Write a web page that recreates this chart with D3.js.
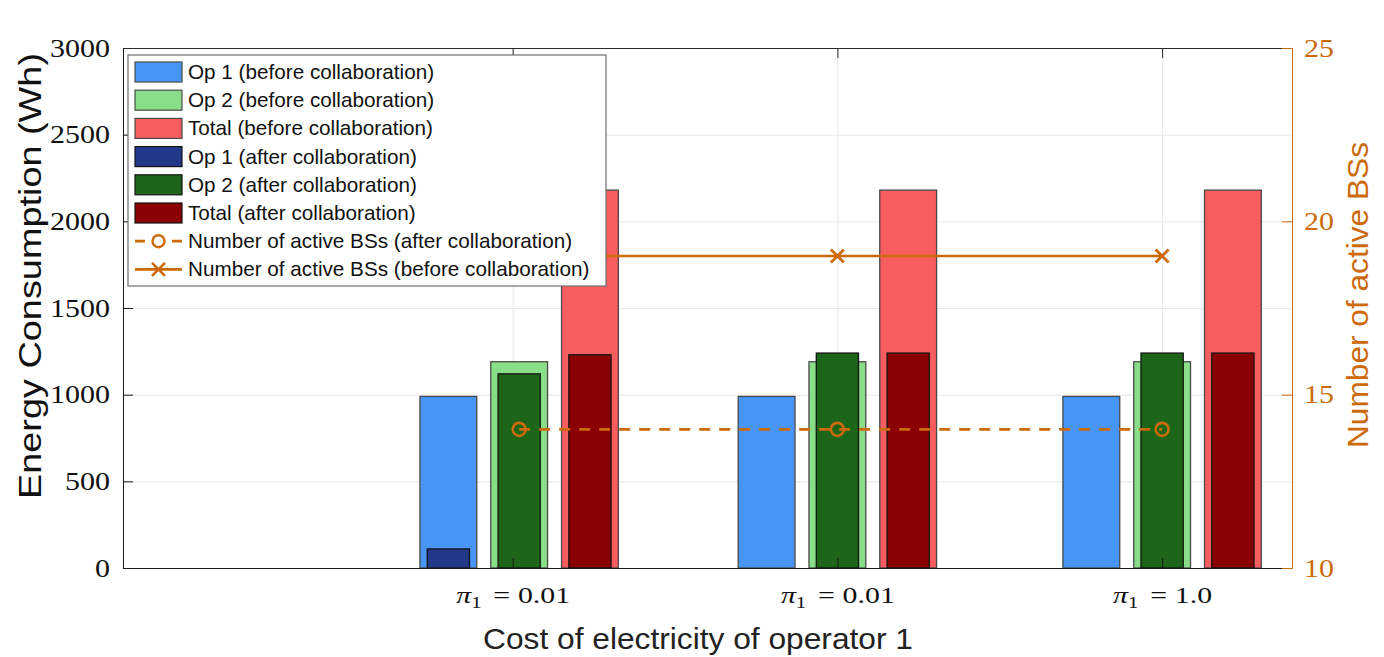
<!DOCTYPE html>
<html>
<head>
<meta charset="utf-8">
<script src="https://cdn.jsdelivr.net/npm/d3@7"></script>
<style>
  body { margin: 0; background: #fff; }
  svg text { font-family: "Liberation Sans", Arial, sans-serif; }
  .tick-num { font-family: "Liberation Serif", "Times New Roman", serif; }
</style>
</head>
<body>
<div id="chart"></div>
<script>
// group positions (x units) and tick labels
const groupX = [1.02, 2, 3];
const tickX = [1, 2, 3];
const tickLabels = ["0.01", "0.01", "1.0"];

// energy consumption (Wh)
const op1Before = [990, 990, 990];
const op2Before = [1190, 1190, 1190];
const totalBefore = [2180, 2180, 2180];
const op1After = [110, 0, 0];
const op2After = [1120, 1240, 1240];
const totalAfter = [1230, 1240, 1240];

// number of active base stations
const bsAfter = [14, 14, 14];
const bsBefore = [19, 19, 19];

const energyTicks = [0, 500, 1000, 1500, 2000, 2500, 3000];
const bsTicks = [10, 15, 20, 25];

const width = 1384, height = 657;
const pl = 123, pr = 1292, pt = 48, pb = 568;
const orange = "#cc6a0c";
const sx = 1.2; // latex-ish numbers are wide

const svg = d3.select("#chart").append("svg")
    .attr("width", width)
    .attr("height", height);

const x = d3.scaleLinear().domain([-0.2, 3.4]).range([pl, pr]);
const y = d3.scaleLinear().domain([0, 3000]).range([pb, pt]);
const y2 = d3.scaleLinear().domain([10, 25]).range([pb, pt]);

// grid
svg.append("g")
    .attr("transform", `translate(${pl},0)`)
    .call(d3.axisLeft(y).tickValues(energyTicks.slice(1, -1)).tickSize(-(pr - pl)).tickFormat(""))
    .call(g => g.select(".domain").remove())
    .call(g => g.selectAll("line").attr("stroke", "#e6e6e6"));
svg.append("g")
    .attr("transform", `translate(0,${pb})`)
    .call(d3.axisBottom(x).tickValues(tickX).tickSize(-(pb - pt)).tickFormat(""))
    .call(g => g.select(".domain").remove())
    .call(g => g.selectAll("line").attr("stroke", "#e6e6e6"));

const step = 0.218, wideW = 0.175, narrowW = 0.13;
const wideSeries = [
  { vals: op1Before, off: -1, fill: "#4795f7", label: "Op 1 (before collaboration)" },
  { vals: op2Before, off: 0, fill: "#88df88", label: "Op 2 (before collaboration)" },
  { vals: totalBefore, off: 1, fill: "#f75d5f", label: "Total (before collaboration)" }
];
const narrowSeries = [
  { vals: op1After, off: -1, fill: "#22398a", label: "Op 1 (after collaboration)" },
  { vals: op2After, off: 0, fill: "#1d6619", label: "Op 2 (after collaboration)" },
  { vals: totalAfter, off: 1, fill: "#8b0000", label: "Total (after collaboration)" }
];

function drawBars(series, w, edge) {
  series.forEach(s => {
    svg.append("g").selectAll("rect")
      .data(s.vals.map((v, i) => ({ v, gx: groupX[i] })).filter(d => d.v > 0))
      .enter().append("rect")
      .attr("x", d => x(d.gx + s.off * step - w / 2))
      .attr("width", d => x(w) - x(0))
      .attr("y", d => y(d.v))
      .attr("height", d => y(0) - y(d.v))
      .attr("fill", s.fill)
      .attr("stroke", edge)
      .attr("stroke-width", 1.3);
  });
}
drawBars(wideSeries, wideW, "#4a4a4a");
drawBars(narrowSeries, narrowW, "#141414");

// active BS lines
const line = d3.line().x((d, i) => x(groupX[i])).y(d => y2(d));
svg.append("path").datum(bsBefore)
    .attr("d", line).attr("fill", "none")
    .attr("stroke", orange).attr("stroke-width", 2.7);
svg.append("path").datum(bsAfter)
    .attr("d", line).attr("fill", "none")
    .attr("stroke", orange).attr("stroke-width", 2.7)
    .attr("stroke-dasharray", "11,9");
svg.append("g").selectAll("circle")
    .data(bsAfter).enter().append("circle")
    .attr("cx", (d, i) => x(groupX[i])).attr("cy", d => y2(d))
    .attr("r", 6.5).attr("fill", "none")
    .attr("stroke", orange).attr("stroke-width", 2.6);
const xMark = "M-6.5,-6.5L6.5,6.5M-6.5,6.5L6.5,-6.5";
svg.append("g").selectAll("path")
    .data(bsBefore).enter().append("path")
    .attr("transform", (d, i) => `translate(${x(groupX[i])},${y2(d)})`)
    .attr("d", xMark).attr("stroke", orange).attr("stroke-width", 2.8);

// axes
svg.append("g")
    .attr("transform", `translate(${pl},0)`)
    .call(d3.axisLeft(y).tickValues(energyTicks).tickFormat(d3.format("d"))
        .tickSize(-10).tickSizeOuter(0).tickPadding(13))
    .call(g => g.select(".domain").attr("stroke", "#1a1a1a"))
    .call(g => g.selectAll("line").attr("stroke", "#1a1a1a"))
    .call(g => g.selectAll("text").attr("class", "tick-num")
        .attr("font-size", 25).attr("fill", "#111")
        .attr("x", -13 / sx).attr("transform", `scale(${sx},1)`));

svg.append("g")
    .attr("transform", `translate(0,${pt})`)
    .call(d3.axisTop(x).tickValues(tickX).tickSize(-10).tickSizeOuter(0).tickFormat(""))
    .call(g => g.selectAll("path,line").attr("stroke", "#2a2a2a"));

const xAxis = svg.append("g")
    .attr("transform", `translate(0,${pb})`)
    .call(d3.axisBottom(x).tickValues(tickX).tickSize(-10).tickSizeOuter(0).tickFormat(""))
    .call(g => g.selectAll("path,line").attr("stroke", "#1a1a1a"));
xAxis.selectAll(".tick").each(function (d, i) {
  const t = d3.select(this).append("text")
      .attr("class", "tick-num")
      .attr("y", 35).attr("text-anchor", "middle")
      .attr("transform", "scale(1.3,1)")
      .attr("fill", "#111").attr("font-size", 23);
  t.append("tspan").attr("font-style", "italic").text("π");
  t.append("tspan").attr("font-size", 16).attr("dy", 5).text("1");
  t.append("tspan").attr("dy", -5).attr("dx", 9).text("=");
  t.append("tspan").attr("dx", 6).text(tickLabels[i]);
});

svg.append("g")
    .attr("transform", `translate(${pr},0)`)
    .call(d3.axisRight(y2).tickValues(bsTicks).tickSize(-10).tickSizeOuter(0).tickPadding(12))
    .call(g => g.selectAll("path,line").attr("stroke", orange))
    .call(g => g.selectAll("text").attr("class", "tick-num")
        .attr("font-size", 25).attr("fill", orange)
        .attr("x", 12 / sx).attr("transform", `scale(${sx},1)`));

// axis titles
svg.append("text")
    .attr("transform", "translate(41,276) rotate(-90)")
    .attr("text-anchor", "middle").attr("font-size", 32).attr("fill", "#111")
    .attr("textLength", 446).attr("lengthAdjust", "spacingAndGlyphs")
    .text("Energy Consumption (Wh)");
svg.append("text")
    .attr("transform", "translate(1368,295) rotate(-90)")
    .attr("text-anchor", "middle").attr("font-size", 30).attr("fill", orange)
    .attr("textLength", 306).attr("lengthAdjust", "spacingAndGlyphs")
    .text("Number of active BSs");
svg.append("text")
    .attr("x", 698).attr("y", 649)
    .attr("text-anchor", "middle").attr("font-size", 30).attr("fill", "#222")
    .attr("textLength", 430).attr("lengthAdjust", "spacingAndGlyphs")
    .text("Cost of electricity of operator 1");

// legend
const legend = svg.append("g").attr("transform", "translate(128,55)");
legend.append("rect")
    .attr("width", 478).attr("height", 231)
    .attr("fill", "#fff").attr("stroke", "#6e6e6e").attr("stroke-width", 1.2);
const patchItems = wideSeries.concat(narrowSeries);
const rowH = 28.2, row0 = 17;
patchItems.forEach((s, i) => {
  const cy = row0 + i * rowH;
  legend.append("rect")
      .attr("x", 7).attr("y", cy - 10).attr("width", 47).attr("height", 20)
      .attr("fill", s.fill).attr("stroke", i < 3 ? "#4a4a4a" : "#141414").attr("stroke-width", 1.2);
  legend.append("text").attr("x", 60).attr("y", cy + 7)
      .attr("font-size", 20.7).attr("fill", "#111").text(s.label);
});
const lineItems = [
  { label: "Number of active BSs (after collaboration)", dashed: true },
  { label: "Number of active BSs (before collaboration)", dashed: false }
];
lineItems.forEach((s, j) => {
  const cy = row0 + (6 + j) * rowH;
  legend.append("line")
      .attr("x1", 7).attr("x2", 54).attr("y1", cy).attr("y2", cy)
      .attr("stroke", orange).attr("stroke-width", 2.7)
      .attr("stroke-dasharray", s.dashed ? "10,27" : null);
  if (s.dashed) {
    legend.append("circle").attr("cx", 30.5).attr("cy", cy).attr("r", 6)
        .attr("fill", "none").attr("stroke", orange).attr("stroke-width", 2.5);
  } else {
    legend.append("path").attr("transform", `translate(30.5,${cy})`)
        .attr("d", xMark).attr("stroke", orange).attr("stroke-width", 2.7);
  }
  legend.append("text").attr("x", 60).attr("y", cy + 7)
      .attr("font-size", 20.7).attr("fill", "#111").text(s.label);
});
</script>
</body>
</html>
